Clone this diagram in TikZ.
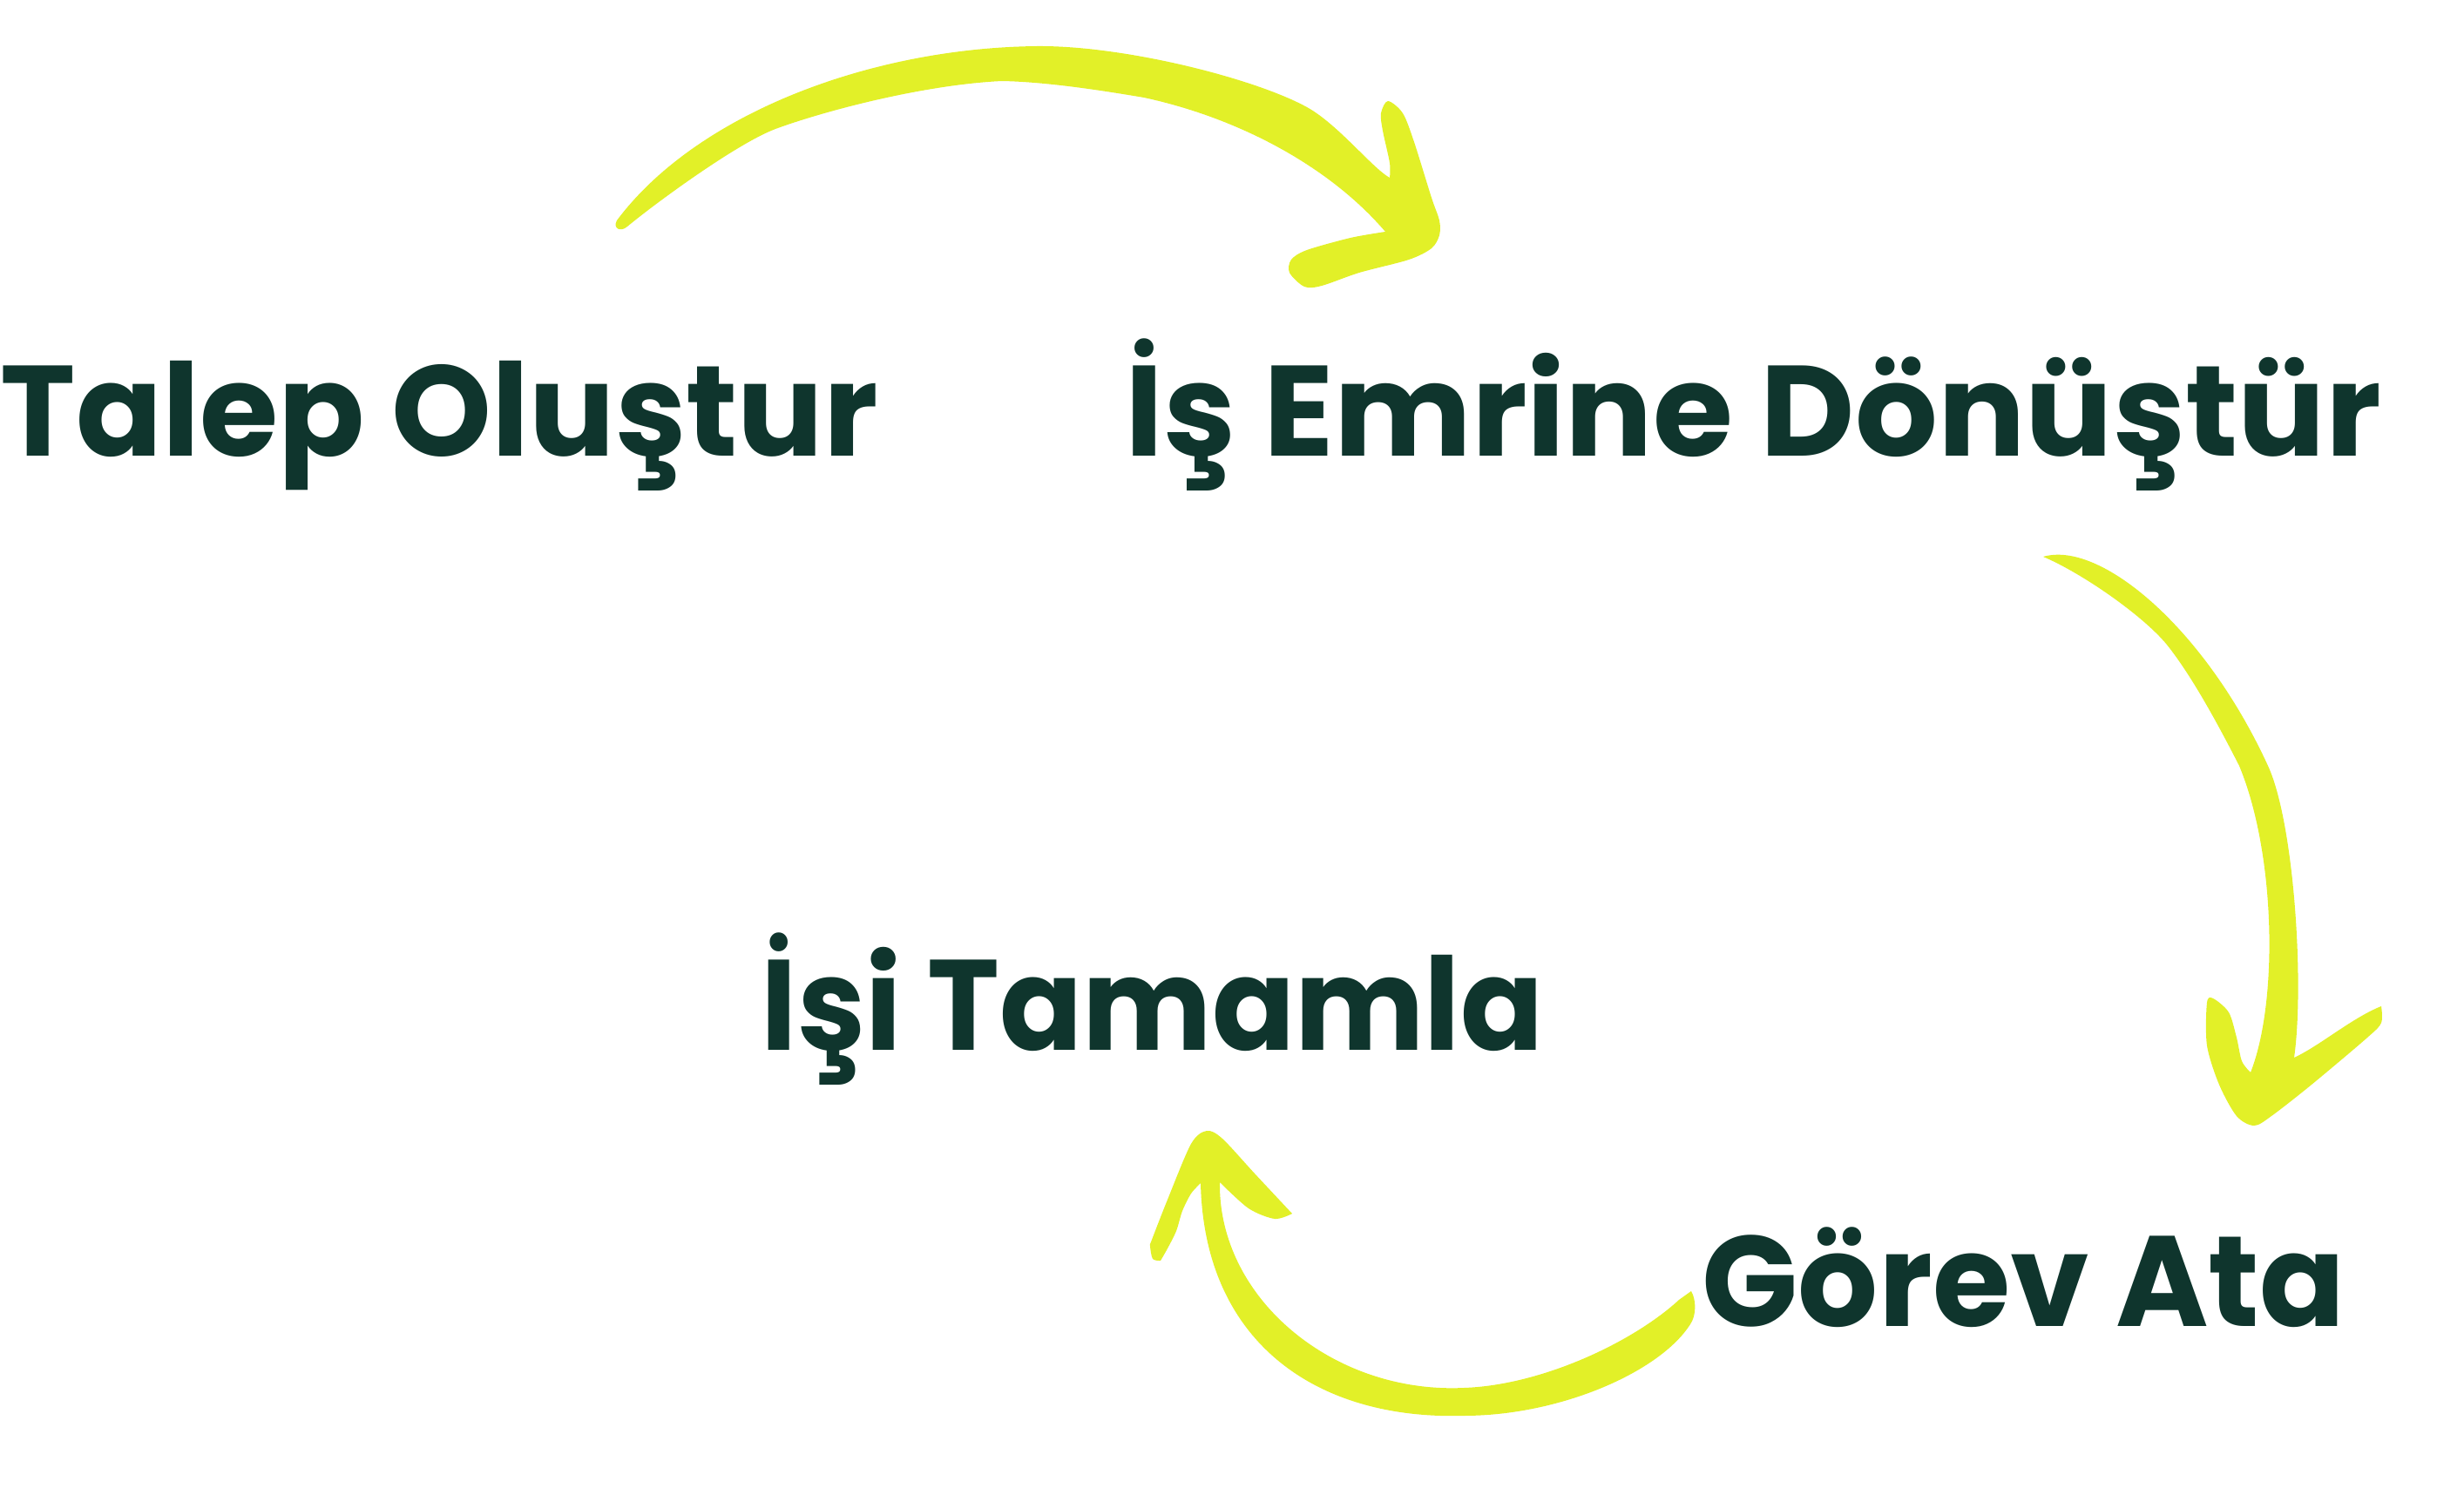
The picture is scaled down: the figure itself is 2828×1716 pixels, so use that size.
\documentclass[tikz,border=0pt]{standalone}
\usepackage{fontspec}
\setmainfont{Poppins}
\definecolor{brush}{HTML}{E2F028}
\definecolor{ink}{HTML}{0F352D}
\begin{document}
\begin{tikzpicture}[x=0.1mm,y=-0.1mm,
  lbl/.style={anchor=base west,inner sep=0pt,text=ink,font=\fontsize{42}{50}\selectfont\bfseries},
  brushfill/.style={fill=brush}]
\useasboundingbox (0,0) rectangle (2828,1716);
\node[lbl] (t1) at (0,523) {\scalebox{0.99}[1]{Talep Oluştur}};
\node[lbl] (t2) at (1291,523) {\scalebox{1.01}[1]{İş Emrine Dönüştür}};
\node[lbl] (t3) at (873,1205) {\scalebox{0.95}[1]{İşi Tamamla}};
\node[lbl] (t4) at (1953,1522) {\scalebox{0.98}[1]{Görev Ata}};
% arrow 1 (Talep -> Is Emri)
\fill[brushfill] (708,253) .. controls (800,130) and (1000,55) .. (1190,53)
 .. controls (1290,52) and (1440,90) .. (1500,123)
 .. controls (1536,143) and (1575,193) .. (1595,204)
 -- plot[smooth] coordinates {(1595,204) (1595,187) (1587,150) (1585,130) (1593,116) (1610,130) (1623,163) (1643,227) (1652,253) (1652,270) (1643,285) (1617,298) (1560,313) (1517,328) (1497,329) (1480,313) (1482,298) (1500,287) (1550,273) (1590,266)}
 .. controls (1525,190) and (1420,135) .. (1313,112)
 .. controls (1260,103) and (1200,94) .. (1150,93)
 .. controls (1063,97) and (950,126) .. (890,148)
 .. controls (845,165) and (750,235) .. (720,260)
 .. controls (712,267) and (703,262) .. (708,253) -- cycle;
% arrow 2 (Is Emri -> Gorev)
\fill[brushfill] (2345,639) .. controls (2410,620) and (2530,720) .. (2603,879)
 .. controls (2633,944) and (2645,1130) .. (2633,1214)
 .. controls (2663,1200) and (2700,1168) .. (2733,1155)
 -- plot[smooth] coordinates {(2733,1155) (2733,1174) (2717,1191) (2653,1245) (2607,1281) (2587,1292) (2567,1281) (2547,1245) (2533,1200) (2533,1151) (2540,1146) (2558,1162) (2567,1191) (2573,1218) (2583,1231)}
 .. controls (2615,1150) and (2612,980) .. (2570,879)
 .. controls (2545,830) and (2515,775) .. (2487,740)
 .. controls (2460,707) and (2390,658) .. (2345,639) -- cycle;
% arrow 3 (Gorev -> Isi Tamamla)
\fill[brushfill] (1941,1482) .. controls (1947,1492) and (1947,1510) .. (1940,1520)
 .. controls (1905,1575) and (1790,1625) .. (1680,1625)
 .. controls (1510,1630) and (1382,1540) .. (1378,1358)
 -- plot[smooth] coordinates {(1378,1358) (1367,1370) (1357,1390) (1350,1413) (1340,1433) (1332,1447)}
 -- plot[smooth] coordinates {(1332,1447) (1323,1445) (1320,1430) (1322,1423) (1340,1377) (1367,1313) (1385,1298) (1403,1307) (1440,1347) (1483,1393)}
 -- plot[smooth] coordinates {(1483,1393) (1463,1399) (1433,1387) (1400,1357)}
 .. controls (1398,1490) and (1530,1600) .. (1680,1593)
 .. controls (1770,1590) and (1875,1540) .. (1927,1492) -- cycle;
\end{tikzpicture}
\end{document}
